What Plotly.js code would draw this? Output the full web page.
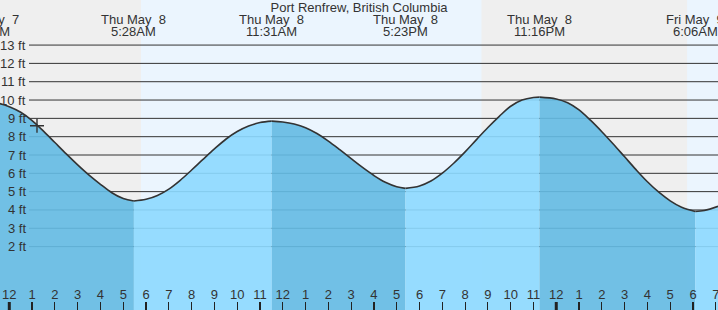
<!DOCTYPE html>
<html>
<head>
<meta charset="utf-8">
<script src="https://cdn.plot.ly/plotly-3.0.1.min.js"></script>
<style>
  html, body { margin: 0; padding: 0; background: #fff; }
  #chart { width: 718px; height: 310px; }
</style>
</head>
<body>
<div id="chart"></div>
<script>
// Hours since midnight Thu May 8 (negative = Wed May 7)
const tideHours = [
  -1.0, -0.5, 0.0, 0.5, 1.0, 1.5, 2.0, 2.5, 3.0, 3.5, 4.0, 4.5, 5.0, 5.467,
  6.0, 6.5, 7.0, 7.5, 8.0, 8.5, 9.0, 9.5, 10.0, 10.5, 11.0, 11.517,
  12.0, 12.5, 13.0, 13.5, 14.0, 14.5, 15.0, 15.5, 16.0, 16.5, 17.0, 17.383,
  18.0, 18.5, 19.0, 19.5, 20.0, 20.5, 21.0, 21.5, 22.0, 22.5, 23.0, 23.267,
  24.0, 24.5, 25.0, 25.5, 26.0, 26.5, 27.0, 27.5, 28.0, 28.5, 29.0, 29.5, 30.1,
  30.5, 31.097];
const tideFeet = [
  9.93, 9.83, 9.63, 9.33, 8.88, 8.30, 7.68, 7.06, 6.46, 5.90, 5.40, 4.94, 4.62, 4.49,
  4.58, 4.79, 5.14, 5.62, 6.18, 6.76, 7.33, 7.86, 8.28, 8.58, 8.77, 8.85,
  8.80, 8.69, 8.49, 8.17, 7.76, 7.29, 6.80, 6.32, 5.88, 5.51, 5.27, 5.18,
  5.31, 5.58, 6.01, 6.55, 7.17, 7.84, 8.50, 9.11, 9.66, 10.00, 10.14, 10.16,
  10.06, 9.85, 9.46, 8.90, 8.27, 7.60, 6.90, 6.20, 5.54, 4.97, 4.50, 4.15, 3.92,
  3.97, 4.20];

const extremeHours = [-1.0, 5.467, 11.517, 17.383, 23.267, 30.1];
const extremeFeet = [9.93, 4.49, 8.85, 5.18, 10.16, 3.92];
const extremeDates = ['Wed May\u00a0\u00a07', 'Thu May\u00a0\u00a08', 'Thu May\u00a0\u00a08', 'Thu May\u00a0\u00a08', 'Thu May\u00a0\u00a08', 'Fri May\u00a0\u00a09'];
const extremeTimes = ['10:54PM', '5:28AM', '11:31AM', '5:23PM', '11:16PM', '6:06AM'];
const labelHours = [-1.09, 5.467, 11.517, 17.383, 23.267, 30.1];

const sunriseHours = [5.78, 29.74];
const sunsetHours = [20.72, 44.7];

const hourTicks = [];
for (let h = 0; h <= 31; h++) hourTicks.push(h);
const hourLabels = ['12','1','2','3','4','5','6','7','8','9','10','11',
  '12','1','2','3','4','5','6','7','8','9','10','11',
  '12','1','2','3','4','5','6','7'];
const midnightHours = [0, 24];

const footLevels = [2, 3, 4, 5, 6, 7, 8, 9, 10, 11, 12, 13];
const footLabels = ['2 ft', '3 ft', '4 ft', '5 ft', '6 ft', '7 ft', '8 ft', '9 ft', '10 ft', '11 ft', '12 ft', '13 ft'];

const nowHour = [1.215];
const nowFeet = [8.6];

const titleText = 'Port Renfrew, British Columbia';

const X_RANGE = [-0.408, 31.097];
const Y_RANGE = [-1.46, 15.46];
const FONT = 'Liberation Sans, Arial, sans-serif';
const TXT = '#333';
const DARK_WATER = 'rgba(100,187,228,0.91)';
const LIGHT_WATER = 'rgba(141,218,255,0.91)';

const traces = [];
const bounds = extremeHours.slice();
if (tideHours[tideHours.length - 1] > bounds[bounds.length - 1]) bounds.push(tideHours[tideHours.length - 1]);
for (let i = 0; i < bounds.length - 1; i++) {
  const a = bounds[i], b = bounds[i + 1];
  const xs = [], ys = [];
  for (let k = 0; k < tideHours.length; k++) {
    if (tideHours[k] >= a - 1e-9 && tideHours[k] <= b + 1e-9) { xs.push(tideHours[k]); ys.push(tideFeet[k]); }
  }
  const falling = ys[ys.length - 1] < ys[0];
  traces.push({
    x: xs, y: xs.map(() => Y_RANGE[0] - 2), type: 'scatter', mode: 'lines',
    line: { width: 0 }, hoverinfo: 'skip', showlegend: false
  });
  traces.push({
    x: xs, y: ys, type: 'scatter', mode: 'lines', fill: 'tonexty',
    fillcolor: falling ? DARK_WATER : LIGHT_WATER,
    line: { color: '#333', width: 1.6, shape: 'spline', smoothing: 1 },
    hoverinfo: 'skip', showlegend: false
  });
}
traces.push({
  x: nowHour, y: nowFeet, type: 'scatter', mode: 'markers',
  marker: { symbol: 'cross-thin', size: 10, line: { color: '#333', width: 1.4 } },
  hoverinfo: 'skip', showlegend: false
});

const shapes = [];
for (let i = 0; i < sunriseHours.length; i++) {
  shapes.push({ type: 'rect', xref: 'x', yref: 'paper', x0: sunriseHours[i], x1: sunsetHours[i], y0: 0, y1: 1,
    fillcolor: '#ebf5fe', line: { width: 0 }, layer: 'below' });
}
footLevels.forEach(v => {
  shapes.push({ type: 'line', xref: 'paper', yref: 'y', x0: 29 / 718, x1: 1, y0: v, y1: v,
    line: { color: '#333', width: 1 }, layer: 'below' });
});
midnightHours.forEach(h => {
  shapes.push({ type: 'line', xref: 'x', yref: 'paper', x0: h, x1: h, y0: 0, y1: 8 / 310,
    line: { color: '#222', width: 3 }, layer: 'above' });
});

const annotations = [];
footLevels.forEach((v, i) => {
  annotations.push({ xref: 'paper', yref: 'y', x: 28 / 718, y: v, xanchor: 'right', yanchor: 'middle',
    text: footLabels[i], showarrow: false, font: { family: FONT, size: 13, color: TXT } });
});
const xSpan = X_RANGE[1] - X_RANGE[0];
labelHours.forEach((h, i) => {
  const px = (h - X_RANGE[0]) / xSpan;
  annotations.push({ xref: 'paper', yref: 'paper', x: px, y: 1 - 19.5 / 310, xanchor: 'center', yanchor: 'middle',
    text: extremeDates[i], showarrow: false, font: { family: FONT, size: 13, color: TXT } });
  annotations.push({ xref: 'paper', yref: 'paper', x: px, y: 1 - 31.5 / 310, xanchor: 'center', yanchor: 'middle',
    text: extremeTimes[i], showarrow: false, font: { family: FONT, size: 13, color: TXT } });
});

const layout = {
  width: 718, height: 310,
  margin: { l: 0, r: 0, t: 0, b: 0 },
  paper_bgcolor: '#ffffff',
  plot_bgcolor: '#efefef',
  title: { text: titleText, x: 0.5, xanchor: 'center', y: 1 - 7.5 / 310, yanchor: 'middle', yref: 'container',
    font: { family: FONT, size: 13, color: TXT } },
  xaxis: {
    range: X_RANGE, showgrid: false, zeroline: false, showline: false,
    tickmode: 'array', tickvals: hourTicks, ticktext: hourLabels,
    ticks: 'inside', ticklen: 8, tickwidth: 1.2, tickcolor: '#222',
    ticklabelposition: 'inside', ticklabeloverflow: 'allow',
    tickfont: { family: FONT, size: 13, color: TXT }, fixedrange: true
  },
  yaxis: {
    range: Y_RANGE, showgrid: false, zeroline: false, showline: false,
    showticklabels: false, ticks: '', fixedrange: true
  },
  shapes: shapes,
  annotations: annotations,
  showlegend: false
};

Plotly.newPlot('chart', traces, layout, { staticPlot: true, displayModeBar: false });
</script>
</body>
</html>
